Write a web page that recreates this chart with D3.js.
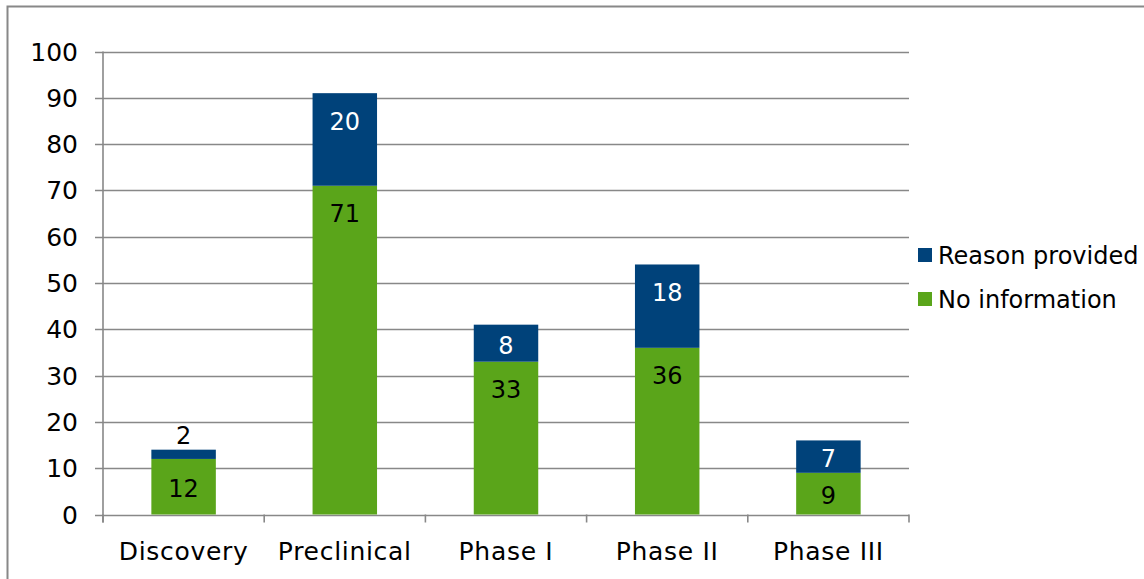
<!DOCTYPE html>
<html><head><meta charset="utf-8">
<script src="https://cdn.jsdelivr.net/npm/d3@7/dist/d3.min.js"></script>
<style>body{margin:0;background:#fff}svg{display:block}text{font-family:"DejaVu Sans",Verdana,sans-serif}</style>
</head><body>
<svg id="c" width="1144" height="579"></svg>
<script>
const categories = ["Discovery","Preclinical","Phase I","Phase II","Phase III"];
const noInformation = [12,71,33,36,9];
const reasonProvided = [2,20,8,18,7];
const seriesNames = ["Reason provided","No information"];
const yTicks = [0,10,20,30,40,50,60,70,80,90,100];

const colors = {"No information":"#5aa51a","Reason provided":"#00427a"};
const svg = d3.select("#c");
const W=1144,H=579;
svg.append("rect").attr("x",7.5).attr("y",6.5).attr("width",W+10).attr("height",H+10)
  .attr("fill","#fff").attr("stroke","#888").attr("stroke-width",2);

const L=103,R=909,T=51.5,B=514.5;
const x=d3.scaleBand().domain(categories).range([L,R]).paddingInner(0.6).paddingOuter(0.3);
const y=d3.scaleLinear().domain([0,100]).range([B,T]);

// gridlines
svg.append("g").selectAll("line").data(yTicks).join("line")
  .attr("x1",L-8).attr("x2",R).attr("y1",d=>Math.round(y(d))+0.5).attr("y2",d=>Math.round(y(d))+0.5)
  .attr("stroke","#888").attr("stroke-width",1.6);
// y axis line
svg.append("line").attr("x1",L).attr("x2",L).attr("y1",T).attr("y2",B+8).attr("stroke","#888").attr("stroke-width",1.6);
// category separators ticks
const seps=d3.range(categories.length+1).map(i=>L+i*(R-L)/categories.length);
svg.append("g").selectAll("line").data(seps).join("line")
  .attr("x1",d=>d).attr("x2",d=>d).attr("y1",B).attr("y2",B+8).attr("stroke","#888").attr("stroke-width",1.6);
// y tick labels
svg.append("g").selectAll("text").data(yTicks).join("text")
  .attr("x",L-25).attr("y",d=>y(d)).attr("dy","0.36em").attr("text-anchor","end")
  .attr("font-size",25).attr("fill","#000").text(d=>d);
// x labels
svg.append("g").selectAll("text").data(categories).join("text")
  .attr("x",d=>x(d)+x.bandwidth()/2).attr("y",560).attr("text-anchor","middle")
  .attr("font-size",25).attr("letter-spacing","0.7px").attr("fill","#000").text(d=>d);

const stackData=categories.map((c,i)=>({cat:c,"No information":noInformation[i],"Reason provided":reasonProvided[i]}));
const stack=d3.stack().keys(["No information","Reason provided"])(stackData);
stack.forEach(s=>{
  const g=svg.append("g");
  g.selectAll("rect").data(s).join("rect")
    .attr("x",d=>x(d.data.cat)).attr("width",x.bandwidth())
    .attr("y",d=>y(d[1])).attr("height",d=>y(d[0])-y(d[1]))
    .attr("fill",colors[s.key]);
  g.selectAll("text").data(s).join("text")
    .attr("x",d=>x(d.data.cat)+x.bandwidth()/2)
    .attr("y",d=>{const top=y(d[1]),bot=y(d[0]),h=bot-top;
      if(h<20) return top-14;
      if(h>56) return top+28;
      return (top+bot)/2+2;})
    .attr("dy","0.36em").attr("text-anchor","middle").attr("font-size",24)
    .attr("fill",d=>{const h=y(d[0])-y(d[1]); return (s.key==="Reason provided"&&h>=20)?"#fff":"#000";})
    .text(d=>d[1]-d[0]);
});

// legend
const lg=svg.append("g");
seriesNames.forEach((n,i)=>{
  const yy=255+i*44;
  lg.append("rect").attr("x",918).attr("y",yy-7).attr("width",14).attr("height",14).attr("fill",colors[n]);
  lg.append("text").attr("x",938).attr("y",yy).attr("dy","0.36em").attr("font-size",24).attr("fill","#000").text(n);
});
</script>
</body></html>
